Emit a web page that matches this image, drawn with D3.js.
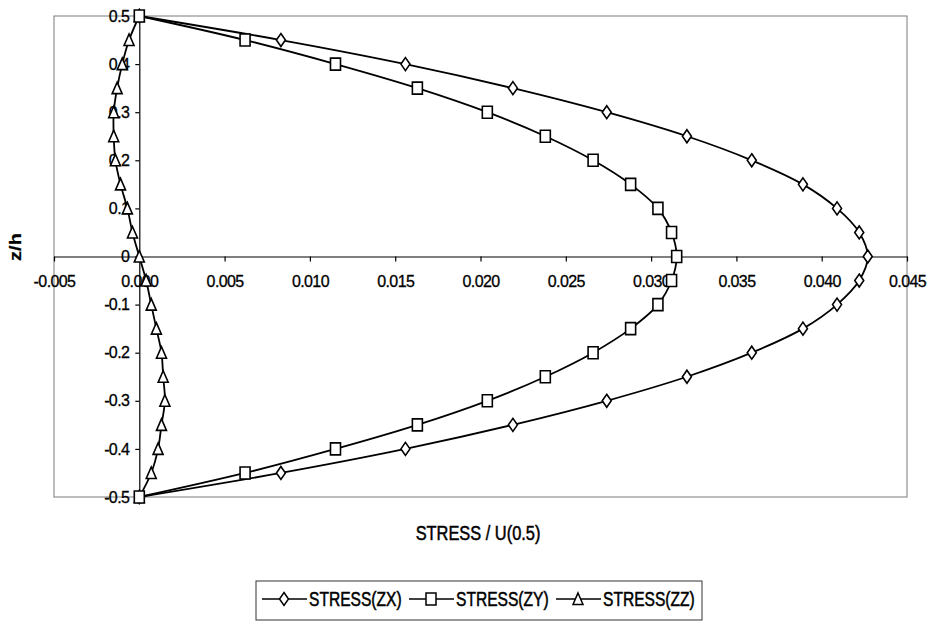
<!DOCTYPE html>
<html>
<head>
<meta charset="utf-8">
<script src="https://cdn.jsdelivr.net/npm/d3@7"></script>
<style>
  body { margin: 0; background: #fff; }
  svg { display: block; }
  text { font-family: "Liberation Sans", Arial, sans-serif; fill: #000; stroke: #000; stroke-width: 0.3px; }
</style>
</head>
<body>
<svg id="chart" width="932" height="623"></svg>
<script>
// depth through the layer, top to bottom
const zh = [0.5, 0.45, 0.4, 0.35, 0.3, 0.25, 0.2, 0.15, 0.1, 0.05, 0,
            -0.05, -0.1, -0.15, -0.2, -0.25, -0.3, -0.35, -0.4, -0.45, -0.5];

const stressZX = [0, 0.0083, 0.0156, 0.0219, 0.0274, 0.0321, 0.0359, 0.0389, 0.0409, 0.0422, 0.0427,
                  0.0422, 0.0409, 0.0389, 0.0359, 0.0321, 0.0274, 0.0219, 0.0156, 0.0083, 0];
const stressZY = [0, 0.0062, 0.0115, 0.0163, 0.0204, 0.0238, 0.0266, 0.0288, 0.0304, 0.0312, 0.0315,
                  0.0312, 0.0304, 0.0288, 0.0266, 0.0238, 0.0204, 0.0163, 0.0115, 0.0062, 0];
const stressZZ = [0, -0.0006, -0.0010, -0.0013, -0.0015, -0.0015, -0.0014, -0.0011, -0.0007, -0.0004, 0,
                  0.0004, 0.0007, 0.0010, 0.0013, 0.0014, 0.0015, 0.0013, 0.0011, 0.0007, 0];

const seriesNames = ["STRESS(ZX)", "STRESS(ZY)", "STRESS(ZZ)"];
const xTicks = [-0.005, 0, 0.005, 0.01, 0.015, 0.02, 0.025, 0.03, 0.035, 0.04, 0.045];
const yTicks = [-0.5, -0.4, -0.3, -0.2, -0.1, 0, 0.1, 0.2, 0.3, 0.4, 0.5];

const svg = d3.select("#chart");
const plot = {left: 54, top: 16, right: 907, bottom: 497};

const x = d3.scaleLinear().domain([-0.005, 0.045]).range([plot.left, plot.right]);
const y = d3.scaleLinear().domain([-0.5, 0.5]).range([plot.bottom, plot.top]);

// marker shapes (a bit taller than wide, like the scanned original)
const shapes = {
  diamond: "M0,-6.5L4.5,0L0,6.5L-4.5,0Z",
  square: "M-5,-6H5V6H-5Z",
  triangle: "M0,-6L5,5.5H-5Z"
};
const series = [
  {name: seriesNames[0], values: stressZX, shape: shapes.diamond},
  {name: seriesNames[1], values: stressZY, shape: shapes.square},
  {name: seriesNames[2], values: stressZZ, shape: shapes.triangle}
];

svg.append("rect")
  .attr("width", 932).attr("height", 623).attr("fill", "#fff");

// plot area frame
svg.append("rect")
  .attr("x", plot.left).attr("y", plot.top)
  .attr("width", plot.right - plot.left).attr("height", plot.bottom - plot.top)
  .attr("fill", "none").attr("stroke", "#7a7a7a").attr("stroke-width", 1);

// axes cross at the origin
const xAxis = svg.append("g")
  .attr("transform", "translate(0," + y(0) + ")")
  .call(d3.axisBottom(x).tickValues(xTicks).tickSize(5).tickPadding(14).tickSizeOuter(0)
    .tickFormat(d => d.toFixed(3)));

const yAxis = svg.append("g")
  .attr("transform", "translate(" + x(0) + ",0)")
  .call(d3.axisLeft(y).tickValues(yTicks).tickSize(4).tickPadding(6).tickSizeOuter(0)
    .tickFormat(d => d === 0 ? "0" : d.toFixed(1)));

[xAxis, yAxis].forEach(g => {
  g.attr("font-family", null).attr("font-size", null);
  g.selectAll("text").style("font-size", "16px").style("letter-spacing", "-0.6px");
  g.selectAll("line, path").attr("stroke", "#000").attr("stroke-width", 1.2);
});

// curves
const line = d3.line()
  .x(d => x(d[0]))
  .y(d => y(d[1]))
  .curve(d3.curveCatmullRom.alpha(0.5));

series.forEach(s => {
  svg.append("path")
    .datum(zh.map((z, i) => [s.values[i], z]))
    .attr("d", line)
    .attr("fill", "none")
    .attr("stroke", "#000")
    .attr("stroke-width", 1.8);
});

// markers, squares on top
[2, 0, 1].forEach(k => {
  const s = series[k];
  svg.append("g").selectAll("path")
    .data(zh.map((z, i) => [s.values[i], z]))
    .join("path")
    .attr("d", s.shape)
    .attr("transform", d => "translate(" + x(d[0]) + "," + y(d[1]) + ")")
    .attr("fill", "#fff")
    .attr("stroke", "#000")
    .attr("stroke-width", 1.6);
});

// axis titles
svg.append("text")
  .attr("transform", "translate(478,533) scale(0.8,1)")
  .attr("text-anchor", "middle")
  .attr("dominant-baseline", "central")
  .style("font-size", "20.5px")
  .style("stroke-width", "0.5px")
  .text("STRESS / U(0.5)");

svg.append("text")
  .attr("transform", "translate(16,247) scale(0.8,1) rotate(-90)")
  .attr("text-anchor", "middle")
  .attr("dominant-baseline", "central")
  .style("font-size", "20px")
  .style("font-weight", "bold")
  .text("z/h");

// legend
const legend = svg.append("g");
legend.append("rect")
  .attr("x", 256).attr("y", 581).attr("width", 446).attr("height", 39)
  .attr("fill", "#fff").attr("stroke", "#333").attr("stroke-width", 1);

const itemX = [262, 409, 556];
const ly = 599;
series.forEach((s, i) => {
  const g = legend.append("g").attr("transform", "translate(" + itemX[i] + "," + ly + ")");
  g.append("line").attr("x1", 0).attr("x2", 45).attr("y1", 0).attr("y2", 0)
    .attr("stroke", "#000").attr("stroke-width", 1.5);
  g.append("path").attr("d", s.shape).attr("transform", "translate(22,0)")
    .attr("fill", "#fff").attr("stroke", "#000").attr("stroke-width", 1.5);
  g.append("text")
    .attr("transform", "translate(47,0) scale(0.8,1)")
    .attr("dominant-baseline", "central")
    .style("font-size", "19.5px")
    .style("stroke-width", "0.5px")
    .text(s.name);
});
</script>
</body>
</html>
